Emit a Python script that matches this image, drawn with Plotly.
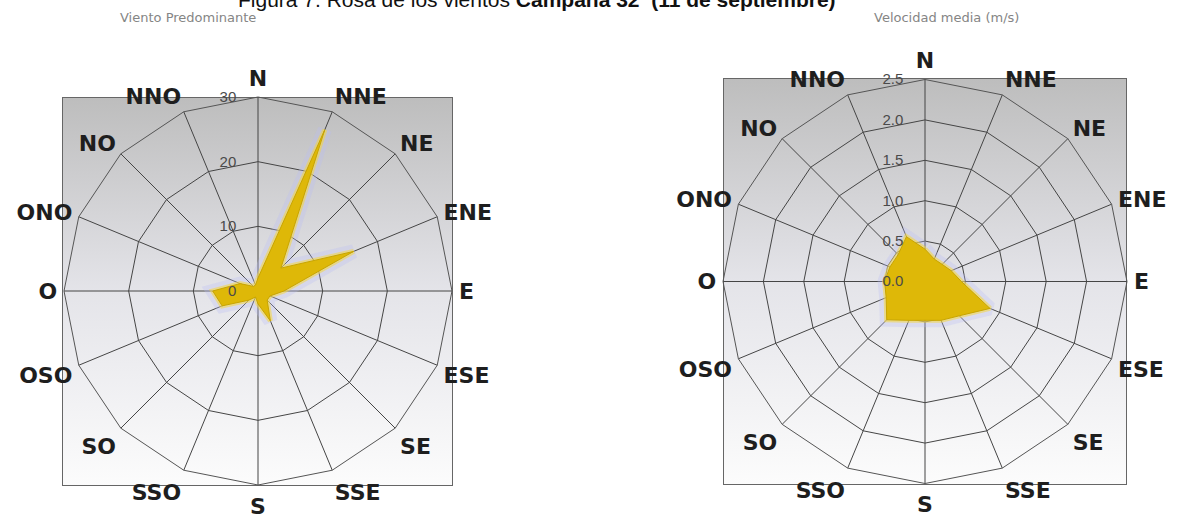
import plotly.graph_objects as go

# Wind-rose sectors, clockwise from north
directions = ["N", "NNE", "NE", "ENE", "E", "ESE", "SE", "SSE",
              "S", "SSO", "SO", "OSO", "O", "ONO", "NO", "NNO"]

# Frequency of predominant wind per sector (%)
frecuencia = [2, 27, 5, 16, 4, 2, 2, 5, 2, 1, 2, 6, 7, 3, 1, 1]

# Mean wind speed per sector (m/s)
velocidad = [0.40, 0.30, 0.30, 0.35, 0.45, 0.87, 0.60, 0.52,
             0.48, 0.52, 0.67, 0.52, 0.50, 0.47, 0.47, 0.60]

freq_ticks = [0, 10, 20, 30]
vel_ticks = [0.0, 0.5, 1.0, 1.5, 2.0, 2.5]

W, H = 1187, 518


def px_x(x):
    return x / W


def px_y(y):
    return 1 - y / H


def closed(values):
    return list(values) + [values[0]]


theta_closed = closed(directions)

fig = go.Figure()

# Gradient panels behind each rose
panels = [
    ("x", "y", [px_x(62), px_x(453)], [px_y(486), px_y(97)]),
    ("x2", "y2", [px_x(723), px_x(1127)], [px_y(485), px_y(78)]),
]
for xa, ya, xd, yd in panels:
    fig.add_trace(go.Scatter(
        x=[0, 1, 1, 0, 0], y=[0, 0, 1, 1, 0],
        mode="lines", fill="toself",
        fillgradient=dict(type="vertical", start=0, stop=1,
                          colorscale=[[0, "#fcfcfc"], [0.5, "#e4e4e9"],
                                      [1, "#bdbdbd"]]),
        line=dict(color="#666666", width=2),
        xaxis=xa, yaxis=ya, hoverinfo="skip", showlegend=False,
    ))


def add_rose(values, polar):
    r = closed(values)
    # soft bluish glow around the filled shape
    fig.add_trace(go.Scatterpolar(
        r=r, theta=theta_closed, mode="lines",
        line=dict(color="rgba(185,190,245,0.30)", width=14),
        subplot=polar, hoverinfo="skip", showlegend=False,
    ))
    fig.add_trace(go.Scatterpolar(
        r=r, theta=theta_closed, mode="lines",
        line=dict(color="rgba(245,215,60,0.55)", width=5),
        subplot=polar, hoverinfo="skip", showlegend=False,
    ))
    fig.add_trace(go.Scatterpolar(
        r=r, theta=theta_closed, mode="lines", fill="toself",
        fillcolor="rgb(222,184,8)",
        line=dict(color="rgb(200,165,0)", width=1),
        subplot=polar, showlegend=False,
    ))
    # hub
    fig.add_trace(go.Scatterpolar(
        r=[0], theta=[directions[0]], mode="markers",
        marker=dict(color="#151515", size=8),
        subplot=polar, hoverinfo="skip", showlegend=False,
    ))


add_rose(frecuencia, "polar")
add_rose(velocidad, "polar2")

label_font = dict(family="DejaVu Sans, Arial, sans-serif", size=22,
                  color="#1e1e1e", weight="bold")
tick_font = dict(family="Liberation Sans, Arial, sans-serif", size=15,
                 color="#4a4a4a")


def polar_layout(xd, yd, rng, ticks, fmt):
    return dict(
        domain=dict(x=xd, y=yd),
        bgcolor="rgba(0,0,0,0)",
        gridshape="linear",
        angularaxis=dict(
            categoryorder="array", categoryarray=directions,
            direction="clockwise", rotation=90,
            gridcolor="#454545", gridwidth=1,
            showline=True, linecolor="#555555", linewidth=1,
            ticks="outside", ticklen=2, tickcolor="rgba(0,0,0,0)",
            tickfont=label_font,
            layer="above traces",
        ),
        radialaxis=dict(
            range=rng, tickvals=ticks, tickformat=fmt,
            angle=90, side="counterclockwise", tickangle=90,
            showline=False, gridcolor="#454545", gridwidth=1,
            ticks="outside", ticklen=16, tickcolor="rgba(0,0,0,0)",
            tickfont=tick_font, layer="above traces",
        ),
    )


fig.update_layout(
    width=W, height=H,
    margin=dict(l=0, r=0, t=0, b=0),
    paper_bgcolor="white", plot_bgcolor="rgba(0,0,0,0)",
    polar=polar_layout([px_x(64), px_x(452)], [px_y(485), px_y(97)],
                       [0, 30], freq_ticks, "d"),
    polar2=polar_layout([px_x(723), px_x(1127)], [px_y(484), px_y(79)],
                        [0, 2.5], vel_ticks, ".1f"),
    xaxis=dict(domain=panels[0][2], range=[0, 1], visible=False, fixedrange=True),
    yaxis=dict(domain=panels[0][3], range=[0, 1], visible=False, fixedrange=True),
    xaxis2=dict(domain=panels[1][2], range=[0, 1], visible=False, fixedrange=True),
    yaxis2=dict(domain=panels[1][3], range=[0, 1], visible=False, fixedrange=True),
    annotations=[
        dict(text="Figura 7. Rosa de los vientos <b>Campaña 32  (11 de septiembre)</b>",
             x=px_x(537), y=px_y(13), xref="paper", yref="paper",
             xanchor="center", yanchor="bottom", showarrow=False,
             font=dict(family="Liberation Sans, Arial, sans-serif", size=21,
                       color="#111111")),
        dict(text="Viento Predominante",
             x=px_x(188), y=px_y(17), xref="paper", yref="paper",
             xanchor="center", yanchor="middle", showarrow=False,
             font=dict(family="DejaVu Sans, Verdana, sans-serif", size=13,
                       color="#858585")),
        dict(text="Velocidad media (m/s)",
             x=px_x(946), y=px_y(17), xref="paper", yref="paper",
             xanchor="center", yanchor="middle", showarrow=False,
             font=dict(family="DejaVu Sans, Verdana, sans-serif", size=13,
                       color="#858585")),
    ],
)

fig.write_html("out.html")
